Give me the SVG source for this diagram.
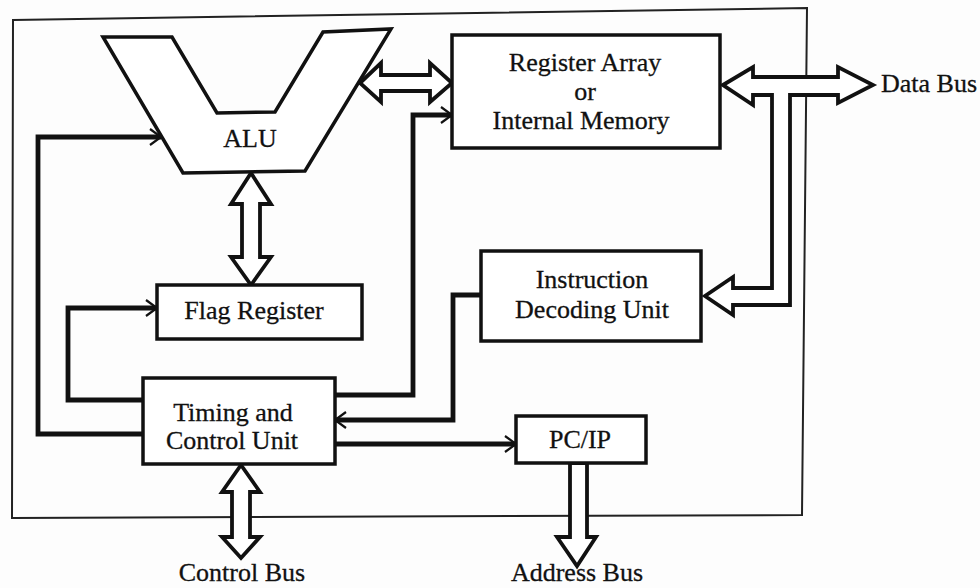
<svg xmlns="http://www.w3.org/2000/svg" width="980" height="588" viewBox="0 0 980 588">
<style>
.box{fill:#fff;stroke:#111;stroke-width:3.5}
.frame{fill:none;stroke:#222;stroke-width:2}
.lbl{font-family:"Liberation Serif","Times New Roman",serif;font-size:26px;fill:#111;stroke:#111;stroke-width:0.3;text-anchor:middle}
.con{fill:none;stroke:#111;stroke-width:4.8;stroke-linejoin:miter}
.bus{fill:#fff;stroke:#111;stroke-width:3.8;stroke-linejoin:miter}
</style>
<defs>
<marker id="chev" markerUnits="userSpaceOnUse" markerWidth="16" markerHeight="20" viewBox="-2 -10 16 20" refX="11" refY="0" orient="auto">
<path d="M0,-8 L11,0 L0,8" fill="none" stroke="#111" stroke-width="2.2"/>
</marker>
</defs>
<rect width="980" height="588" fill="#fdfdfd"/>
<polygon class="frame" points="13,20 807,8 802,515 12,518"/>
<g id="connectors">
<path class="con" d="M143,434 H38 V137 H161" marker-end="url(#chev)"/>
<path class="con" d="M143,400 H68 V308 H157" marker-end="url(#chev)"/>
<path class="con" d="M335,395 H413 V115 H452" marker-end="url(#chev)"/>
<path class="con" d="M481,295 H453 V420 H335" marker-end="url(#chev)"/>
<path class="con" d="M335,444 H516" marker-end="url(#chev)"/>
<polygon class="bus" points="251,173 271,204 260,204 260,257 271,257 251,285 231,257 242,257 242,204 231,204"/>
<polygon class="bus" points="360,83 381,63 381,75 430,75 430,63 452,83 430,102 430,91 381,91 381,102"/>
<polygon class="bus" points="241,465 260,492 250,492 250,537 260,537 241,558 222,537 232,537 232,492 222,492"/>
<polygon class="bus" points="570,463 587,463 587,537 596,537 577,566 557,537 570,537"/>
<polygon class="bus" points="723,85 753,67 753,77 838,77 838,67 873,85 838,103 838,95 790,95 790,305 733,305 733,315 705,296 733,277 733,288 772,288 772,95 753,95 753,105"/>
</g>
<g id="alu">
<polygon class="box" points="103,37 172,37 217,113 275,112 323,32 391,29 305,171 183,173"/>
<text class="lbl" x="250" y="147">ALU</text>
</g>
<g id="register-array">
<rect class="box" x="452" y="35" width="268" height="113"/>
<text class="lbl" x="585" y="71">Register Array</text>
<text class="lbl" x="585" y="100">or</text>
<text class="lbl" x="581" y="129">Internal Memory</text>
</g>
<g id="flag-register">
<rect class="box" x="157" y="285" width="205" height="54"/>
<text class="lbl" x="254" y="319">Flag Register</text>
</g>
<g id="instruction-decoding">
<rect class="box" x="481" y="251" width="220" height="90"/>
<text class="lbl" x="592" y="288">Instruction</text>
<text class="lbl" x="592" y="318">Decoding Unit</text>
</g>
<g id="timing-control">
<rect class="box" x="143" y="378" width="192" height="86"/>
<text class="lbl" x="233" y="421">Timing and</text>
<text class="lbl" x="232" y="449">Control Unit</text>
</g>
<g id="pcip">
<rect class="box" x="516" y="416" width="130" height="47"/>
<text class="lbl" x="580" y="448">PC/IP</text>
</g>
<g id="bus-labels">
<text class="lbl" x="929" y="92">Data Bus</text>
<text class="lbl" x="242" y="581">Control Bus</text>
<text class="lbl" x="577" y="581">Address Bus</text>
</g>
</svg>
